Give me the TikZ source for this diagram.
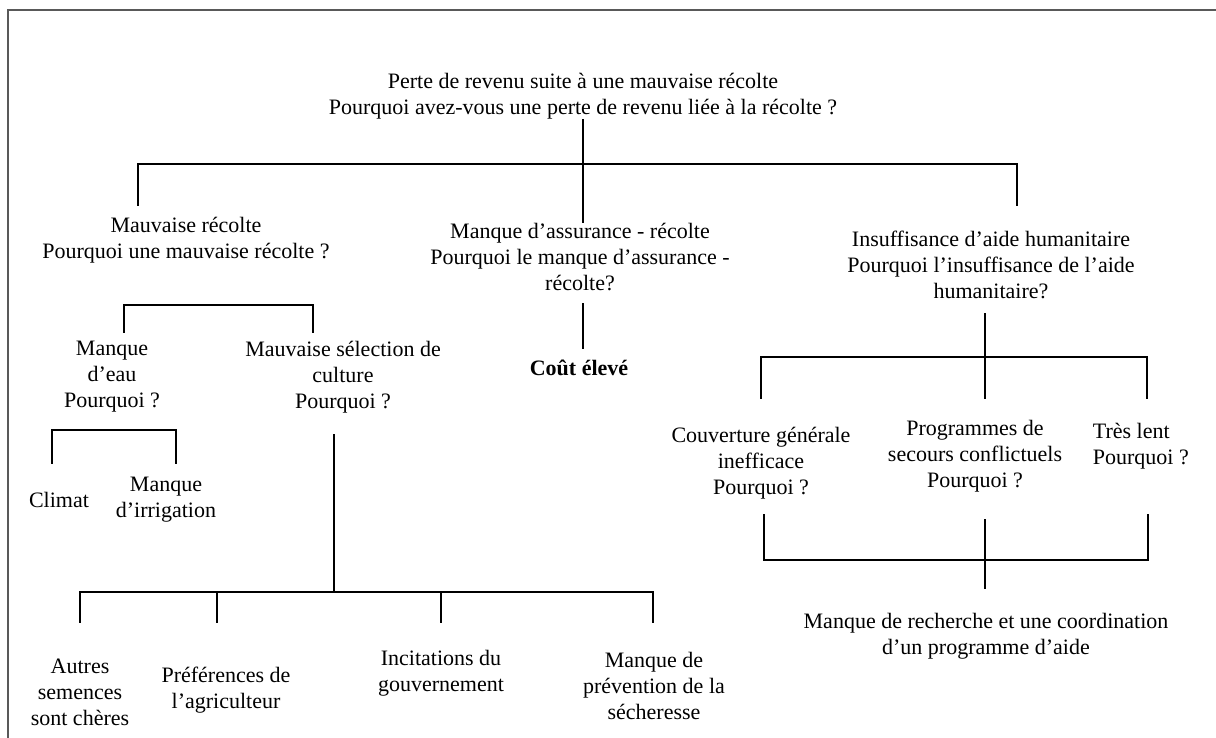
\documentclass[tikz,border=0pt]{standalone}
\usepackage{fontspec}
\setmainfont{Liberation Serif}
\usepackage{tikz}
\newcommand\fs{\fontsize{11}{13}\selectfont}

\begin{document}
\begin{tikzpicture}[x=0.5pt,y=-0.5pt,line width=0.9pt,line cap=rect]

  \tikzstyle{every node}=[align=center,inner sep=0pt,font=\fs]
  \tikzstyle{strong}=[font=\fs\bfseries]

  \useasboundingbox (0,0) rectangle (1216,738);
  \draw[black!65,line width=1pt] (1230,10) -- (8,10) -- (8,750);

  % causes
  \node (root)   at (583,96)  {Perte de revenu suite à une mauvaise récolte\\Pourquoi avez-vous une perte de revenu liée à la récolte ?};
  \node (mauv)   at (186,240) {Mauvaise récolte\\Pourquoi une mauvaise récolte ?};
  \node (assur)  at (580,257) {Manque d'assurance - récolte\\Pourquoi le manque d'assurance -\\récolte?};
  \node (insuf)  at (991,265) {Insuffisance d'aide humanitaire\\Pourquoi l'insuffisance de l'aide\\humanitaire?};
  \node (eau)    at (112,377) {Manque\\d'eau\\Pourquoi ?};
  \node (sel)    at (343,377) {Mauvaise sélection de\\culture\\Pourquoi ?};
  \node[strong] (cout) at (579,368) {Coût élevé};
  \node (climat) at (59,500)  {Climat};
  \node (irrig)  at (166,500) {Manque\\d'irrigation};
  \node (autres) at (80,692)  {Autres\\semences\\sont chères};
  \node (pref)   at (226,690) {Préférences de\\l'agriculteur};
  \node (incit)  at (441,673) {Incitations du\\gouvernement};
  \node (prev)   at (654,686) {Manque de\\prévention de la\\sécheresse};
  \node (couv)   at (761,463) {Couverture générale\\inefficace\\Pourquoi ?};
  \node (prog)   at (975,456) {Programmes de\\secours conflictuels\\Pourquoi ?};
  \node[align=left,anchor=west] (lent) at (1092,446) {Très lent\\Pourquoi ?};
  \node (rech)   at (986,636) {Manque de recherche et une coordination\\d'un programme d'aide};

  % bars
  \coordinate (top-bar)   at (583,164);
  \coordinate (mauv-up)   at (138,205);
  \coordinate (insuf-up)  at (1017,205);
  \coordinate (mauv-bar)  at (218,305);
  \coordinate (eau-up)    at (124,332);
  \coordinate (sel-up)    at (313,332);
  \coordinate (eau-bar)   at (114,430);
  \coordinate (climat-up) at (52,463);
  \coordinate (irrig-up)  at (176,463);
  \coordinate (sel-dn)    at (334,435);
  \coordinate (sel-bar)   at (334,592);
  \coordinate (autres-up) at (80,622);
  \coordinate (pref-up)   at (217,622);
  \coordinate (incit-up)  at (441,622);
  \coordinate (prev-up)   at (653,622);
  \coordinate (insuf-bar) at (985,357);
  \coordinate (couv-up)   at (761,398);
  \coordinate (prog-up)   at (985,398);
  \coordinate (lent-up)   at (1147,398);
  \coordinate (couv-dn)   at (764,515);
  \coordinate (prog-dn)   at (985,520);
  \coordinate (lent-dn)   at (1148,515);
  \coordinate (rech-bar)  at (985,560);
  \coordinate (rech-up)   at (985,588);

  \draw (root.south -| top-bar) -- (assur.north -| top-bar);
  \draw (mauv-up) |- (top-bar) -| (insuf-up);

  \draw (eau-up) |- (mauv-bar) -| (sel-up);
  \draw (climat-up) |- (eau-bar) -| (irrig-up);

  \draw (sel-dn) -- (sel-bar);
  \draw (autres-up) |- (sel-bar) -| (prev-up);
  \draw (pref-up) -- (pref-up |- sel-bar);
  \draw (incit-up) -- (incit-up |- sel-bar);

  \draw[shorten <=6pt,shorten >=5.5pt] (assur.south -| top-bar) -- (cout.north -| top-bar);

  \draw[shorten <=7pt] (insuf.south -| insuf-bar) -- (insuf-bar);
  \draw (couv-up) |- (insuf-bar) -| (lent-up);
  \draw (insuf-bar) -- (prog-up);

  \draw (couv-dn) |- (rech-bar) -| (lent-dn);
  \draw (prog-dn) -- (rech-up);

\end{tikzpicture}
\end{document}
